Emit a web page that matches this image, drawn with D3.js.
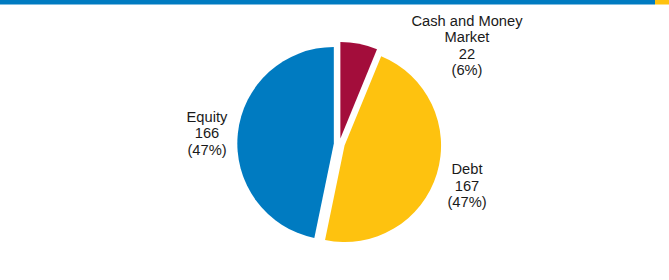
<!DOCTYPE html>
<html>
<head>
<meta charset="utf-8">
<script src="https://cdn.jsdelivr.net/npm/d3@7"></script>
<style>
  html, body { margin: 0; padding: 0; background: #fff; }
  svg { display: block; }
</style>
</head>
<body>
<svg id="chart" width="669" height="280"></svg>
<script>
const categories = ["Cash and Money Market", "Debt", "Equity"];
const values = [22, 167, 166];
const percentLabels = ["(6%)", "(47%)", "(47%)"];
const labelLines = [["Cash and Money", "Market"], ["Debt"], ["Equity"]];
const colors = ["#A30D3B", "#FEC20F", "#007BC1"];

const svg = d3.select("#chart");

// top banner
svg.append("rect").attr("x", 0).attr("y", 0).attr("width", 655).attr("height", 4.5).attr("fill", "#007BC1");
svg.append("rect").attr("x", 655).attr("y", 0).attr("width", 14).attr("height", 4.5).attr("fill", "#FEC20F");

const cx = 339.3, cy = 144, r = 96.5, explode = 5.5;

const pie = d3.pie().sort(null).value(d => d).startAngle(0).endAngle(2 * Math.PI);
const arcs = pie(values);
const arc = d3.arc().innerRadius(0).outerRadius(r);

const g = svg.append("g").attr("transform", `translate(${cx},${cy})`);

g.selectAll("path.slice")
  .data(arcs)
  .join("path")
  .attr("class", "slice")
  .attr("d", arc)
  .attr("fill", (d, i) => colors[i])
  .attr("transform", d => {
    const a = (d.startAngle + d.endAngle) / 2;
    return `translate(${Math.sin(a) * explode},${-Math.cos(a) * explode})`;
  });

const labelPos = [
  { x: 467, y: 25.5 },
  { x: 467, y: 174 },
  { x: 207, y: 121.5 }
];
const lh = 16.5;

arcs.forEach((d, i) => {
  const lines = labelLines[i].concat([String(values[i]), percentLabels[i]]);
  const t = svg.append("text")
    .attr("text-anchor", "middle")
    .attr("font-family", "Liberation Sans, Arial, sans-serif")
    .attr("font-size", "14.7px")
    .attr("fill", "#1a1a1a");
  lines.forEach((ln, k) => {
    t.append("tspan")
      .attr("x", labelPos[i].x)
      .attr("y", labelPos[i].y + k * lh)
      .text(ln);
  });
});
</script>
</body>
</html>
